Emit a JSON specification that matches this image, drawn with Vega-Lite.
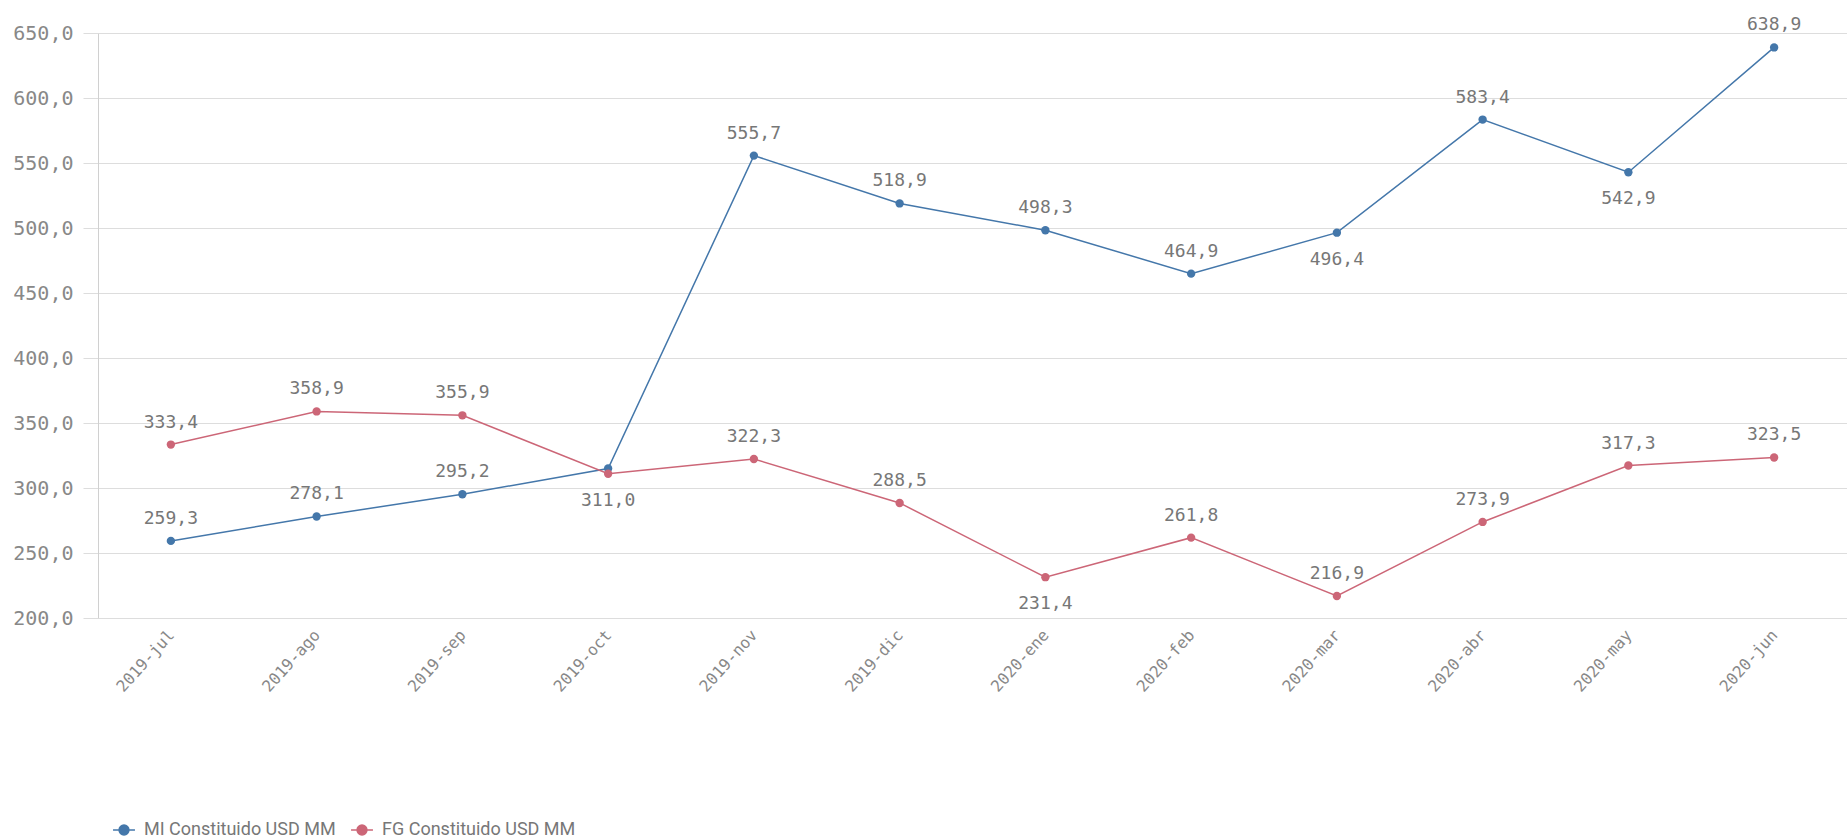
{
  "$schema": "https://vega.github.io/schema/vega-lite/v6.json",
  "width": 1749,
  "height": 585,
  "autosize": {"type": "none"},
  "padding": {"left": 98, "top": 33, "right": 0, "bottom": 221},
  "background": "white",
  "config": {
    "view": {"stroke": null},
    "locale": {"number": {"decimal": ",", "thousands": ".", "grouping": [3], "currency": ["", ""]}},
    "axis": {"labelFont": "DejaVu Sans Mono", "labelColor": "#888888", "titleFont": "DejaVu Sans Mono"}
  },
  "data": {"values": [
    {"month": "2019-jul", "series": "MI Constituido USD MM", "value": 259.3},
    {"month": "2019-ago", "series": "MI Constituido USD MM", "value": 278.1},
    {"month": "2019-sep", "series": "MI Constituido USD MM", "value": 295.2},
    {"month": "2019-oct", "series": "MI Constituido USD MM", "value": 315.0},
    {"month": "2019-nov", "series": "MI Constituido USD MM", "value": 555.7},
    {"month": "2019-dic", "series": "MI Constituido USD MM", "value": 518.9},
    {"month": "2020-ene", "series": "MI Constituido USD MM", "value": 498.3},
    {"month": "2020-feb", "series": "MI Constituido USD MM", "value": 464.9},
    {"month": "2020-mar", "series": "MI Constituido USD MM", "value": 496.4},
    {"month": "2020-abr", "series": "MI Constituido USD MM", "value": 583.4},
    {"month": "2020-may", "series": "MI Constituido USD MM", "value": 542.9},
    {"month": "2020-jun", "series": "MI Constituido USD MM", "value": 638.9},
    {"month": "2019-jul", "series": "FG Constituido USD MM", "value": 333.4},
    {"month": "2019-ago", "series": "FG Constituido USD MM", "value": 358.9},
    {"month": "2019-sep", "series": "FG Constituido USD MM", "value": 355.9},
    {"month": "2019-oct", "series": "FG Constituido USD MM", "value": 311.0},
    {"month": "2019-nov", "series": "FG Constituido USD MM", "value": 322.3},
    {"month": "2019-dic", "series": "FG Constituido USD MM", "value": 288.5},
    {"month": "2020-ene", "series": "FG Constituido USD MM", "value": 231.4},
    {"month": "2020-feb", "series": "FG Constituido USD MM", "value": 261.8},
    {"month": "2020-mar", "series": "FG Constituido USD MM", "value": 216.9},
    {"month": "2020-abr", "series": "FG Constituido USD MM", "value": 273.9},
    {"month": "2020-may", "series": "FG Constituido USD MM", "value": 317.3},
    {"month": "2020-jun", "series": "FG Constituido USD MM", "value": 323.5}
  ]},
  "encoding": {
    "x": {
      "field": "month", "type": "nominal", "sort": null,
      "scale": {"type": "point", "padding": 0.5},
      "axis": {"title": null, "labelAngle": -48, "labelFontSize": 16, "ticks": false, "domain": false, "grid": false, "labelPadding": 14}
    },
    "y": {
      "field": "value", "type": "quantitative",
      "scale": {"domain": [200, 650], "nice": false, "zero": false},
      "axis": {"title": null, "values": [200, 250, 300, 350, 400, 450, 500, 550, 600, 650], "format": ",.1f",
               "labelFontSize": 20, "gridColor": "#dddddd", "tickColor": "#dddddd", "tickSize": 15,
               "domainColor": "#d0d0d0", "labelPadding": 10}
    },
    "color": {
      "field": "series", "type": "nominal",
      "scale": {"domain": ["MI Constituido USD MM", "FG Constituido USD MM"], "range": ["#4477aa", "#cc6677"]},
      "legend": {
        "title": null, "orient": "none", "direction": "horizontal", "legendX": 14, "legendY": 785,
        "labelFont": "Roboto", "labelFontSize": 18, "labelColor": "#777777", "columnPadding": 12, "labelLimit": 400,
        "symbolType": "M-1,0L1,0M-0.45,0A0.45,0.45 0 1,1 0.45,0A0.45,0.45 0 1,1 -0.45,0Z",
        "symbolSize": 480, "symbolStrokeWidth": 1.5, "labelOffset": 8
      }
    }
  },
  "layer": [
    {"mark": {"type": "line", "strokeWidth": 1.5}, "encoding": {"detail": {"field": "series"}}},
    {"mark": {"type": "point", "filled": true, "size": 70, "opacity": 1}},
    {
      "transform": [{"filter": "!((datum.series[0] == 'M' && (datum.month == '2020-mar' || datum.month == '2020-may' || datum.month == '2019-oct')) || (datum.series[0] == 'F' && (datum.month == '2019-oct' || datum.month == '2020-ene')))"}],
      "mark": {"type": "text", "baseline": "bottom", "dy": -13, "font": "DejaVu Sans Mono", "fontSize": 18, "color": "#777777"},
      "encoding": {"text": {"field": "value", "type": "quantitative", "format": ",.1f"}, "color": {"value": "#777777"}}
    },
    {
      "transform": [{"filter": "(datum.series[0] == 'M' && (datum.month == '2020-mar' || datum.month == '2020-may')) || (datum.series[0] == 'F' && (datum.month == '2019-oct' || datum.month == '2020-ene'))"}],
      "mark": {"type": "text", "baseline": "top", "dy": 18, "font": "DejaVu Sans Mono", "fontSize": 18, "color": "#777777"},
      "encoding": {"text": {"field": "value", "type": "quantitative", "format": ",.1f"}, "color": {"value": "#777777"}}
    }
  ]
}
